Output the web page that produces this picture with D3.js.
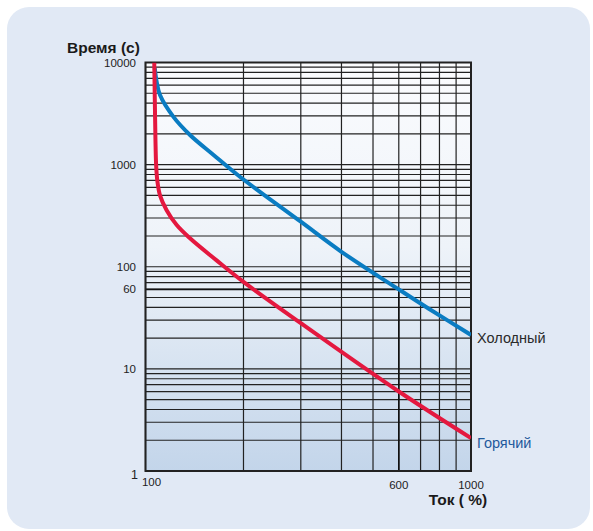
<!DOCTYPE html>
<html><head><meta charset="utf-8">
<script src="https://cdn.jsdelivr.net/npm/d3@7"></script>
<style>body{margin:0;background:#fff}svg{display:block}</style>
</head><body>
<svg id="c" width="593" height="531"></svg>
<script>
// Data (current % vs time s)
const coldCurrent = [106.8, 108.2, 110.8, 121.7, 137, 161.5, 195, 300, 400, 600, 740, 1000];
const coldTime    = [8800, 6500, 4800, 2950, 1950, 1250, 760, 276, 140, 60, 39, 21.5];
const hotCurrent  = [106.4, 107, 107.8, 108.7, 110.8, 116, 124.7, 137, 165, 200, 300, 600, 1000];
const hotTime     = [10000, 3000, 1000, 700, 500, 360, 256, 190, 116, 71, 28, 6, 2.1];
const yTickLabels = [1, 10, 60, 100, 1000, 10000];
const xTickLabels = [100, 600, 1000];
const seriesNames = ["Холодный", "Горячий"];
const yTitle = "Время (с)";
const xTitle = "Ток ( %)";

const svg = d3.select("#c");
const L = 145.5, R = 471, T = 62.5, B = 471;
const x = d3.scaleLog().domain([100, 1000]).range([L, R]);
const y = d3.scaleLog().domain([1, 10000]).range([B, T]);

// panel
svg.append("rect").attr("x", 7).attr("y", 7).attr("width", 583).attr("height", 522)
  .attr("rx", 22).attr("fill", "#e1e9f5");

const defs = svg.append("defs");
const g = defs.append("linearGradient").attr("id", "pg").attr("x1", 0).attr("y1", 0).attr("x2", 0).attr("y2", 1);
g.append("stop").attr("offset", "0").attr("stop-color", "#fbfcfe");
g.append("stop").attr("offset", "0.45").attr("stop-color", "#eef3f9");
g.append("stop").attr("offset", "1").attr("stop-color", "#c3d5ea");
defs.append("clipPath").attr("id", "cp").append("rect")
  .attr("x", L).attr("y", T).attr("width", R - L).attr("height", B - T);

svg.append("rect").attr("x", L).attr("y", T).attr("width", R - L).attr("height", B - T)
  .attr("fill", "url(#pg)");

// grid
const grid = svg.append("g").attr("stroke", "#222").attr("stroke-width", 1.2);
grid.selectAll("line.h").data(y.ticks()).join("line").attr("class", "h")
  .attr("x1", L).attr("x2", R).attr("y1", d => y(d)).attr("y2", d => y(d));
grid.selectAll("line.v").data(x.ticks()).join("line").attr("class", "v")
  .attr("y1", T).attr("y2", B).attr("x1", d => x(d)).attr("x2", d => x(d));

// highlight of 600 % / 60 s
const hl = svg.append("g").attr("stroke", "#111").attr("stroke-width", 1.6);
hl.append("line").attr("x1", L).attr("x2", x(600)).attr("y1", y(60)).attr("y2", y(60));
hl.append("line").attr("x1", x(600)).attr("x2", x(600)).attr("y1", y(60)).attr("y2", B);

// frame
svg.append("rect").attr("x", L).attr("y", T).attr("width", R - L).attr("height", B - T)
  .attr("fill", "none").attr("stroke", "#222").attr("stroke-width", 2);

// curves
const line = d3.line().x(d => x(d[0])).y(d => y(d[1])).curve(d3.curveCatmullRom.alpha(0.5));
const cold = coldCurrent.map((c, i) => [c, coldTime[i]]);
const hot = hotCurrent.map((c, i) => [c, hotTime[i]]);
const curves = svg.append("g").attr("clip-path", "url(#cp)").attr("fill", "none")
  .attr("stroke-width", 4).attr("stroke-linecap", "butt");
curves.append("path").attr("d", line(cold)).attr("stroke", "#0a7cc2");
curves.append("path").attr("d", line(hot)).attr("stroke", "#e4183f");

// y tick labels
const font = "'Liberation Sans', Arial, sans-serif";
svg.append("g").selectAll("text").data(yTickLabels).join("text")
  .attr("x", d => d === 1 ? 138 : 136)
  .attr("y", d => y(d) + (d === 1 ? 4 : 0))
  .attr("dy", "0.35em").attr("text-anchor", "end")
  .attr("font-family", font).attr("font-size", d => d === 1 ? 12.5 : 11.5).attr("fill", "#222")
  .text(d => d);

// x tick labels
svg.append("g").selectAll("text").data(xTickLabels).join("text")
  .attr("x", d => x(d) + (d === 100 ? 6 : 0))
  .attr("y", d => d === 100 ? 482 : 485)
  .attr("dy", "0.35em").attr("text-anchor", "middle")
  .attr("font-family", font).attr("font-size", 11.5).attr("fill", "#222")
  .text(d => d);

// titles
svg.append("text").attr("x", 67).attr("y", 52.5).attr("font-family", font)
  .attr("font-weight", "bold").attr("font-size", 15.5).attr("fill", "#1a1a1a").text(yTitle);
svg.append("text").attr("x", 458).attr("y", 505).attr("text-anchor", "middle").attr("font-family", font)
  .attr("font-weight", "bold").attr("font-size", 15.5).attr("fill", "#1a1a1a").text(xTitle);

// series labels
svg.append("text").attr("x", 477).attr("y", y(coldTime[coldTime.length - 1]) + 3.5).attr("dy", "0.35em")
  .attr("font-family", font).attr("font-size", 14.5).attr("fill", "#2a2a2a").text(seriesNames[0]);
svg.append("text").attr("x", 477).attr("y", y(hotTime[hotTime.length - 1]) + 4.5).attr("dy", "0.35em")
  .attr("font-family", font).attr("font-size", 14.5).attr("fill", "#1f5a9c").text(seriesNames[1]);
</script>
</body></html>
